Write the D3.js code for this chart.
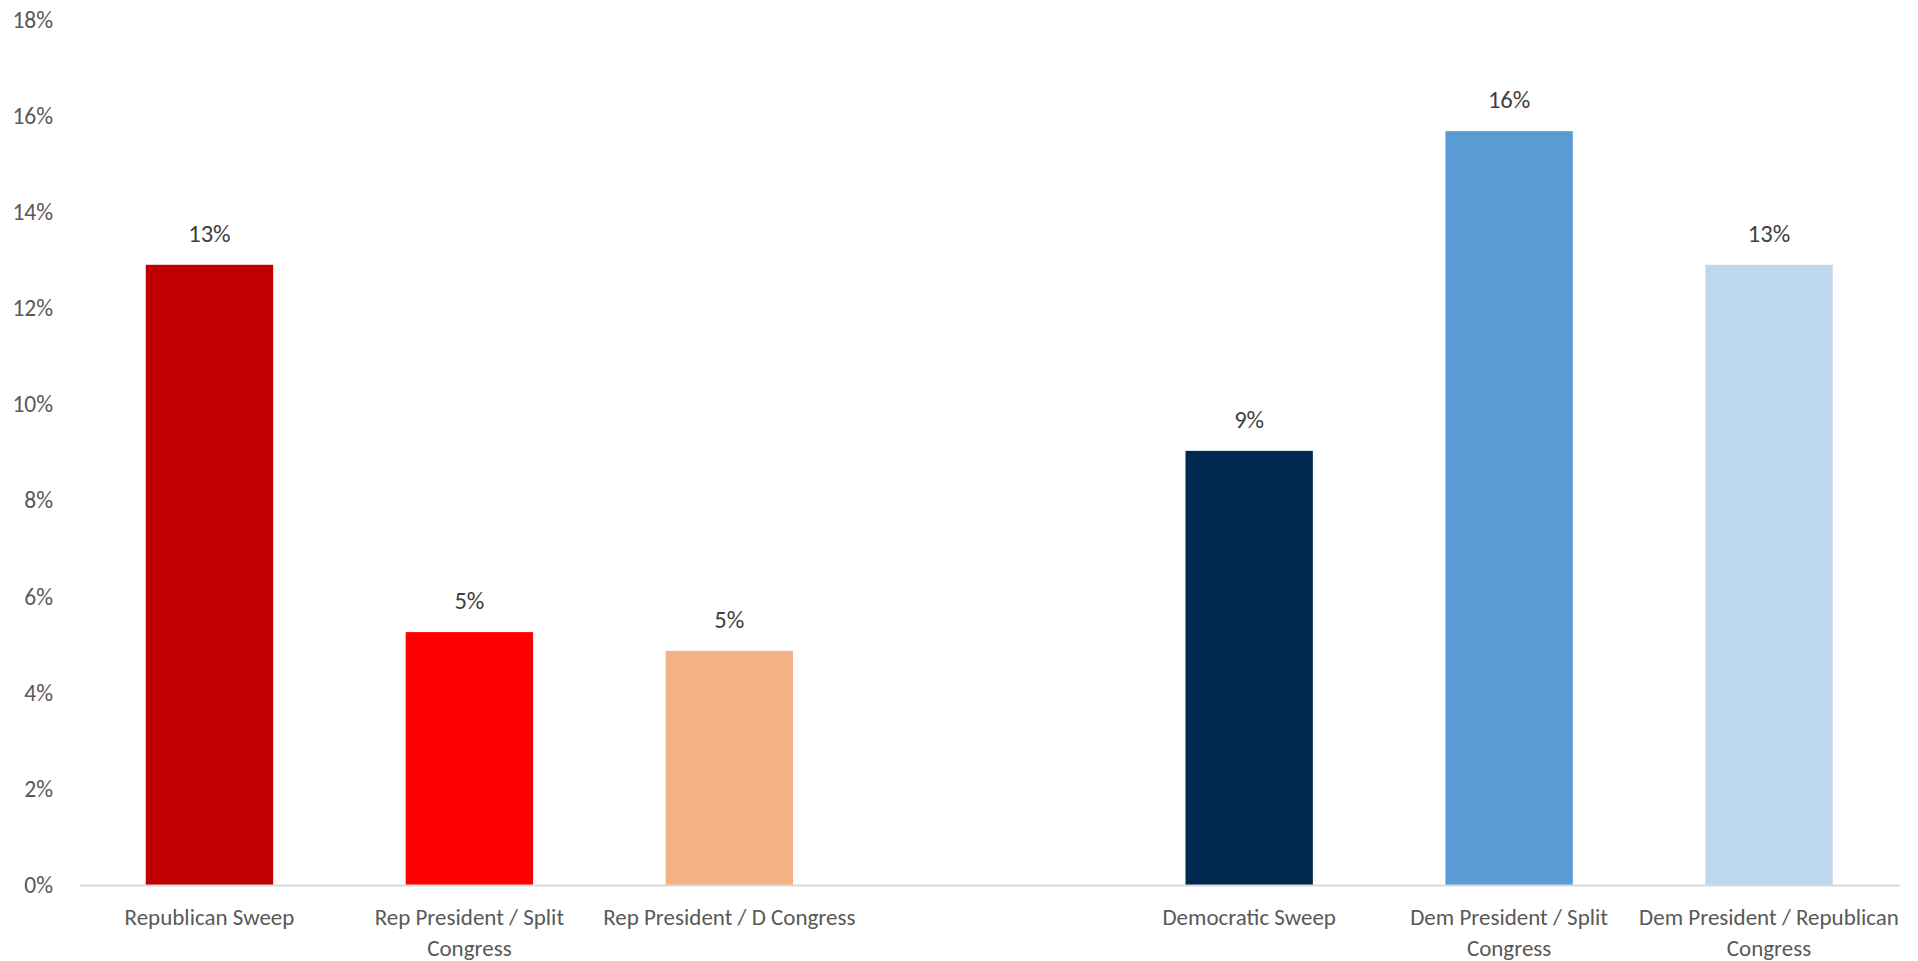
<!DOCTYPE html>
<html>
<head>
<meta charset="utf-8">
<script src="https://cdn.jsdelivr.net/npm/d3@7"></script>
<style>
  html, body { margin: 0; padding: 0; background: #ffffff; }
  svg { display: block; }
  text { font-family: Calibri, Carlito, Lato, "Open Sans", sans-serif; }
</style>
</head>
<body>
<svg id="chart" width="1918" height="961"></svg>
<script>
// Outcome scenarios, Republican-led on the left, Democratic-led on the right
const repCategories = ["Republican Sweep", "Rep President / Split Congress", "Rep President / D Congress"];
const demCategories = ["Democratic Sweep", "Dem President / Split Congress", "Dem President / Republican Congress"];
const categories = [...repCategories, ...demCategories];

// Share for each scenario
const values = [0.129, 0.0526, 0.0487, 0.0903, 0.1568, 0.129];

// Bar fills, in category order
const colors = ["#C00000", "#FF0000", "#F4B183", "#002850", "#5B9BD5", "#BDD7EE"];

// Value axis ticks
const yTicks = [0, 0.02, 0.04, 0.06, 0.08, 0.10, 0.12, 0.14, 0.16, 0.18];

const svg = d3.select("#chart");
const plot = { left: 79.5, right: 1899, top: 19.6, bottom: 885 };

// Seven slots: the two groups separated by one empty slot
const slots = [...repCategories, " ", ...demCategories];

const x = d3.scaleBand()
  .domain(slots)
  .range([plot.left, plot.right])
  .paddingInner(0.51)
  .paddingOuter(0.255);

const y = d3.scaleLinear()
  .domain([0, 0.18])
  .range([plot.bottom, plot.top]);

const pct = d3.format(".0%");

// Y axis labels (no line, no tick marks)
const yAxis = svg.append("g")
  .attr("transform", `translate(53,0)`)
  .call(d3.axisLeft(y).tickValues(yTicks).tickFormat(pct).tickSize(0).tickPadding(0));
yAxis.select(".domain").remove();
yAxis.attr("font-family", null).attr("font-size", null);
yAxis.selectAll("text")
  .attr("fill", "#595959")
  .style("font-size", "23.5px");

// Bars
const rows = categories.map((c, i) => ({ c, v: values[i], color: colors[i] }));

svg.append("g")
  .selectAll("rect")
  .data(rows)
  .join("rect")
  .attr("x", d => x(d.c))
  .attr("width", x.bandwidth())
  .attr("y", d => y(d.v))
  .attr("height", d => y(0) - y(d.v))
  .attr("fill", d => d.color);

// Value labels above bars
svg.append("g")
  .selectAll("text")
  .data(rows)
  .join("text")
  .attr("x", d => x(d.c) + x.bandwidth() / 2)
  .attr("y", d => y(d.v) - 23)
  .attr("text-anchor", "middle")
  .attr("fill", "#404040")
  .style("font-size", "24.5px")
  .text(d => pct(d.v));

// Category axis along the baseline
const xAxis = svg.append("g")
  .attr("transform", `translate(0,${plot.bottom})`)
  .call(d3.axisBottom(x).tickValues(categories).tickSize(0).tickSizeOuter(0).tickPadding(0));
xAxis.attr("font-family", null).attr("font-size", null);
xAxis.select(".domain")
  .attr("stroke", "#D9D9D9")
  .attr("stroke-width", 2);

// Wrap category labels to the slot width
const maxW = x.step() + 12;
xAxis.selectAll(".tick text")
  .attr("fill", "#595959")
  .style("font-size", "23px")
  .attr("dy", null)
  .each(function(d) {
    const t = d3.select(this);
    const words = d.split(" ");
    t.text(null);
    let line = [];
    let lineNo = 0;
    let tspan = t.append("tspan").attr("x", 0).attr("y", 40);
    for (const w of words) {
      line.push(w);
      tspan.text(line.join(" "));
      if (tspan.node().getComputedTextLength() > maxW && line.length > 1) {
        line.pop();
        tspan.text(line.join(" "));
        line = [w];
        lineNo++;
        tspan = t.append("tspan").attr("x", 0).attr("y", 40 + lineNo * 31).text(w);
      }
    }
  });
</script>
</body>
</html>
